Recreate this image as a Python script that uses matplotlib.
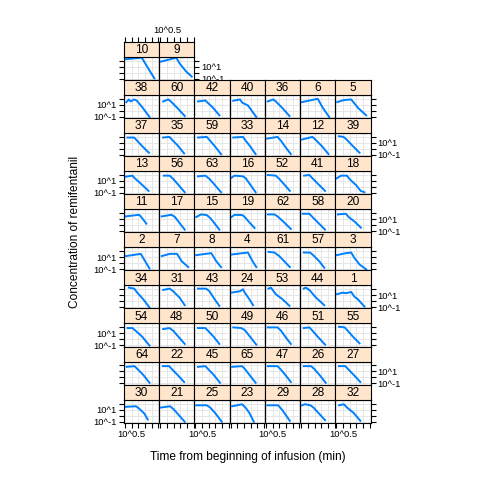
import matplotlib
matplotlib.use("Agg")
import matplotlib.pyplot as plt
from matplotlib.ticker import NullLocator

plt.rcParams['font.family'] = ['Liberation Sans', 'DejaVu Sans']

# ---- data ----
layout_rows = [
    [10, 9],
    [38, 60, 42, 40, 36, 6, 5],
    [37, 35, 59, 33, 14, 12, 39],
    [13, 56, 63, 16, 52, 41, 18],
    [11, 17, 15, 19, 62, 58, 20],
    [2, 7, 8, 4, 61, 57, 3],
    [34, 31, 43, 24, 53, 44, 1],
    [54, 48, 50, 49, 46, 51, 55],
    [64, 22, 45, 65, 47, 26, 27],
    [30, 21, 25, 23, 29, 28, 32],
]

subject_ids = [10, 9, 38, 60, 42, 40, 36, 6, 5, 37, 35, 59, 33, 14, 12, 39,
               13, 56, 63, 16, 52, 41, 18, 11, 17, 15, 19, 62, 58, 20,
               2, 7, 8, 4, 61, 57, 3, 34, 31, 43, 24, 53, 44, 1,
               54, 48, 50, 49, 46, 51, 55, 64, 22, 45, 65, 47, 26, 27,
               30, 21, 25, 23, 29, 28, 32]

time_min = [
    [1.0, 15.3, 19.5, 65, 162], [1.07, 16.2, 28, 89, 233],
    [1.28, 1.95, 2.6, 4.9, 7.4, 19.5, 69], [1.64, 4.1, 7.0, 19.5, 69],
    [1.55, 5.5, 8.3, 22, 62], [1.55, 4.9, 7.4, 19.5, 83],
    [1.36, 3.6, 5.5, 17.3, 58], [1.14, 17.3, 43, 126],
    [1.14, 3.4, 12.8, 43, 172],
    [1.55, 4.9, 8.3, 19.5, 62], [1.64, 4.9, 8.3, 19.5, 62],
    [1.55, 7.0, 12.8, 28, 83], [1.55, 8.3, 13.5, 28, 74],
    [1.2, 7.4, 13.5, 28, 74], [1.14, 7.0, 12.8, 36, 112],
    [1.55, 3.4, 5.8, 17.3, 54],
    [1.14, 3.6, 5.5, 17.3, 58], [1.85, 5.1, 9.4, 23, 69],
    [1.55, 5.5, 11.3, 28, 83], [1.14, 1.95, 8.3, 13.5, 28, 74],
    [1.36, 5.5, 10, 23, 62], [1.64, 4.1, 7.0, 19.5, 62],
    [1.07, 2.2, 6.2, 9.4, 32, 65, 126],
    [1.14, 11.3, 15.3, 40], [1.28, 7.0, 12.8, 28, 69],
    [1.14, 2.6, 7.0, 12.8, 28, 62], [1.14, 1.95, 7.4, 11.3, 25, 62],
    [1.36, 4.3, 7.4, 23, 74], [1.28, 4.1, 7.0, 19.5, 62],
    [1.28, 5.1, 8.3, 22, 69],
    [1.14, 15.3, 32, 69], [1.28, 5.1, 18.3, 40, 126],
    [1.14, 15.3, 36, 83], [1.14, 19.5, 43, 83],
    [1.55, 4.3, 10, 23, 62], [1.55, 4.6, 7.9, 22, 54],
    [1.07, 5.1, 12.8, 22, 54, 172],
    [1.95, 4.9, 8.3, 23, 69], [1.64, 5.1, 9.4, 28, 69],
    [1.55, 6.2, 11.3, 25, 62], [1.14, 4.9, 8.3, 11.3, 23, 48],
    [1.55, 2.35, 5.5, 17.3, 58], [1.55, 2.2, 4.1, 12.8, 54],
    [1.07, 3.0, 5.1, 12.8, 22, 40, 126],
    [1.55, 3.6, 6.2, 19.5, 69], [1.64, 4.9, 9.4, 23, 69],
    [1.55, 5.5, 11.3, 25, 62], [1.55, 6.2, 11.3, 28, 83],
    [1.36, 7.4, 13.5, 28, 74], [1.55, 4.1, 7.0, 17.3, 62],
    [1.55, 4.1, 7.0, 17.3, 54],
    [1.36, 5.1, 8.3, 23, 69], [1.55, 4.6, 7.9, 19.5, 62],
    [1.55, 5.5, 9.4, 23, 69], [1.28, 7.0, 11.3, 25, 74],
    [1.36, 7.4, 12.8, 28, 74], [1.55, 5.5, 9.4, 23, 69],
    [1.55, 4.6, 7.9, 19.5, 62],
    [1.0, 6.6, 11.3, 28, 51], [1.14, 5.5, 10.7, 69],
    [1.14, 7.0, 12.8, 32, 94], [1.28, 7.0, 12.8, 25, 54],
    [1.28, 8.3, 17.3, 62], [1.14, 1.95, 4.9, 8.3, 62],
    [1.55, 3.6, 6.2, 19.5, 62],
]

concentration = [
    [170, 316, 245, 2.8, 0.11], [69, 316, 36, 1.5, 0.22],
    [28, 78, 36, 78, 52, 4.1, 0.09], [36, 78, 28, 2.8, 0.13],
    [36, 52, 22, 2.8, 0.17], [47, 78, 22, 7.8, 0.09],
    [36, 78, 36, 2.8, 0.13], [28, 100, 2.8, 0.09],
    [28, 60, 78, 2.8, 0.17],
    [78, 78, 22, 2.8, 0.22], [78, 100, 28, 4.1, 0.17],
    [78, 100, 22, 2.8, 0.13], [78, 100, 22, 2.8, 0.13],
    [52, 100, 22, 2.2, 0.13], [36, 100, 28, 2.8, 0.13],
    [130, 100, 36, 2.8, 0.22],
    [52, 78, 28, 2.8, 0.22], [78, 78, 22, 2.2, 0.13],
    [60, 78, 22, 2.2, 0.13], [36, 78, 60, 28, 2.8, 0.13],
    [100, 78, 22, 2.8, 0.22], [78, 100, 28, 2.8, 0.22],
    [28, 78, 78, 22, 1.7, 0.22, 0.13],
    [28, 52, 28, 1.7], [28, 52, 22, 2.2, 0.17],
    [22, 60, 47, 15, 1.7, 0.17], [22, 52, 47, 22, 2.8, 0.32],
    [60, 60, 28, 2.8, 0.22], [78, 78, 22, 2.2, 0.17],
    [60, 78, 22, 4.1, 0.36],
    [15, 36, 2.2, 0.13], [15, 36, 36, 2.2, 0.22],
    [22, 47, 2.2, 0.22], [28, 60, 2.2, 0.22],
    [78, 60, 15, 2.2, 0.22], [60, 60, 22, 2.2, 0.17],
    [22, 47, 60, 7.8, 0.6, 0.09],
    [190, 130, 28, 2.2, 0.09], [78, 130, 47, 4.1, 0.22],
    [130, 130, 47, 2.8, 0.17], [28, 47, 100, 28, 2.8, 0.22],
    [130, 190, 15, 2.2, 0.17], [130, 190, 78, 4.1, 0.22],
    [15, 28, 22, 36, 6.0, 2.2, 0.13],
    [78, 78, 28, 2.8, 0.09], [52, 78, 28, 2.8, 0.17],
    [78, 78, 15, 2.2, 0.17], [100, 78, 36, 2.8, 0.13],
    [100, 100, 28, 2.8, 0.17], [78, 100, 28, 2.8, 0.13],
    [130, 100, 28, 2.8, 0.22],
    [60, 78, 28, 2.8, 0.13], [78, 78, 22, 2.8, 0.17],
    [60, 78, 22, 2.8, 0.13], [60, 78, 28, 2.8, 0.13],
    [78, 78, 22, 2.8, 0.17], [78, 78, 28, 2.8, 0.13],
    [78, 78, 22, 2.8, 0.17],
    [28, 36, 15, 2.2, 0.22], [22, 36, 10, 0.09],
    [52, 52, 22, 2.2, 0.09], [36, 78, 22, 2.8, 0.09],
    [52, 52, 7.8, 0.13], [52, 78, 52, 22, 0.17],
    [52, 78, 22, 2.8, 0.13],
]

x_tick_values = [1.0, 10 ** 0.5, 10.0, 10 ** 1.5, 100.0, 10 ** 2.5]
x_tick_labels = ["", "10^0.5", "", "", "", ""]
y_tick_values = [0.1, 1.0, 10.0, 100.0]
y_tick_labels = ["10^-1", "", "10^1", ""]

xlim = (10 ** -0.075, 10 ** 2.57)
ylim = (10 ** -1.2, 10 ** 2.67)

data = {sid: (t, c) for sid, t, c in zip(subject_ids, time_min, concentration)}

# ---- layout (pixels) ----
FW = 480.0
L, W = 124.0, 35.24
TOP, RH, SH = 41.7, 38.1, 15.0
PH = RH - SH
nrows = len(layout_rows)

fig = plt.figure(figsize=(4.8, 4.8), dpi=100)

LINE_COL = '#0080ff'
STRIP_COL = '#ffe5cc'
GRID_COL = '#e6e6e6'
TL = 3.6
TFS = 6.8

for r, row in enumerate(layout_rows):
    b = nrows - 1 - r
    for c, sid in enumerate(row):
        left = L + c * W
        st = TOP + r * RH
        pt = st + SH
        pb = st + RH
        ax = fig.add_axes([left / FW, 1 - pb / FW, W / FW, PH / FW])
        sax = fig.add_axes([left / FW, 1 - pt / FW, W / FW, SH / FW])

        # strip
        sax.set_facecolor(STRIP_COL)
        sax.set_yticks([])
        sax.text(0.5, 0.45, str(sid), ha='center', va='center',
                 fontsize=8.6, transform=sax.transAxes)
        for s in sax.spines.values():
            s.set_linewidth(0.8)
            s.set_color('black')
        sax.set_xscale('log')
        sax.set_xlim(*xlim)
        sax.xaxis.set_minor_locator(NullLocator())
        if r == 0:
            sax.set_xticks(x_tick_values, x_tick_labels)
            sax.tick_params(axis='x', top=True, bottom=False,
                            labeltop=(c % 2 == 1), labelbottom=False,
                            direction='out', length=TL, width=0.8,
                            labelsize=TFS, pad=1.5)
        else:
            sax.set_xticks([])

        # panel
        ax.set_xscale('log')
        ax.set_yscale('log')
        ax.set_xlim(*xlim)
        ax.set_ylim(*ylim)
        ax.set_xticks(x_tick_values, x_tick_labels)
        ax.set_yticks(y_tick_values, y_tick_labels)
        ax.xaxis.set_minor_locator(NullLocator())
        ax.yaxis.set_minor_locator(NullLocator())
        ax.grid(True, color=GRID_COL, linewidth=0.7)
        ax.set_axisbelow(True)
        t, conc = data[sid]
        ax.plot(t, conc, color=LINE_COL, linewidth=1.4, solid_joinstyle='round')

        is_last = (c == len(row) - 1)
        ax.tick_params(axis='y', left=(c == 0), right=is_last,
                       labelleft=(c == 0 and b % 2 == 0),
                       labelright=(is_last and b % 2 == 1),
                       direction='out', length=TL, width=0.8,
                       labelsize=TFS, pad=1.5)
        ax.tick_params(axis='x', bottom=(r == nrows - 1), top=False,
                       labelbottom=(r == nrows - 1 and c % 2 == 0),
                       labeltop=False,
                       direction='out', length=TL, width=0.8,
                       labelsize=TFS, pad=1.5)
        for s in ax.spines.values():
            s.set_linewidth(0.8)
            s.set_color('black')

fig.text(247.5 / FW, 1 - 457 / FW, "Time from beginning of infusion (min)",
         ha='center', va='center', fontsize=8.6)
fig.text(75 / FW, 1 - 232 / FW, "Concentration of remifentanil",
         ha='center', va='center', rotation=90, fontsize=8.6)

fig.savefig("out.png", dpi=100, facecolor='white')
